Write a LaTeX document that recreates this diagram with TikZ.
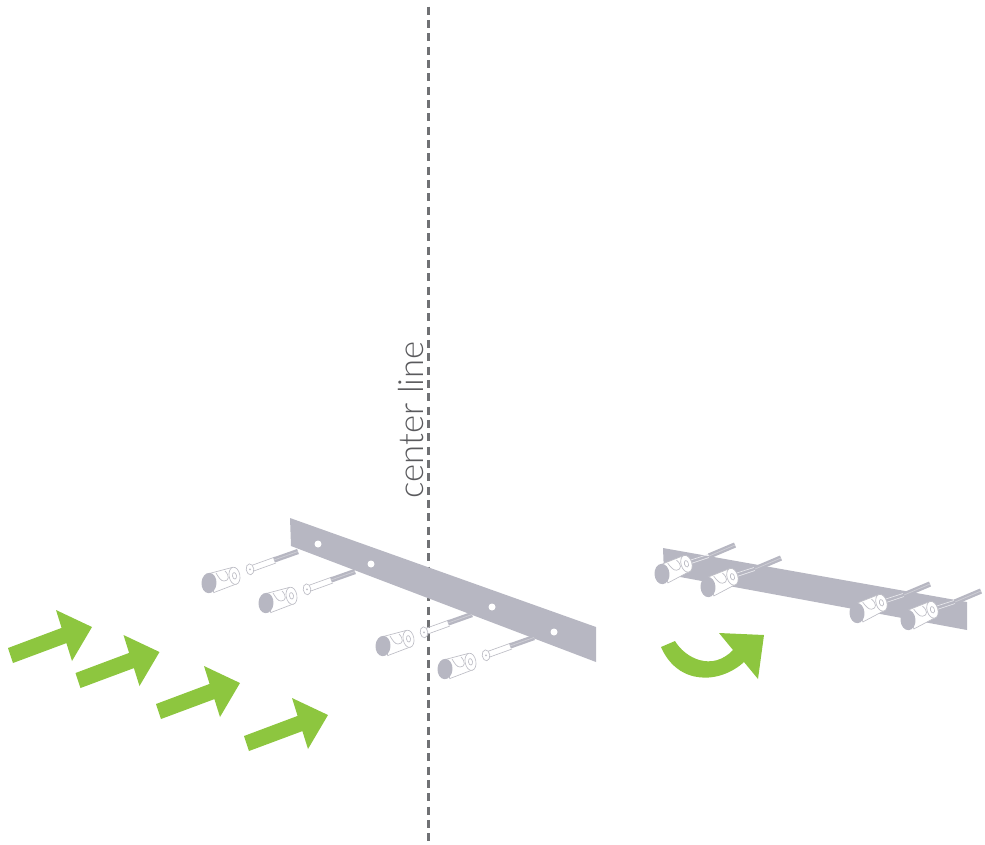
\documentclass[tikz,border=0pt]{standalone}
\usepackage{fontspec}
\setsansfont{Lato}[UprightFont=* Light]
\definecolor{platecolor}{RGB}{183,183,194}
\definecolor{greencolor}{RGB}{141,198,63}
\definecolor{dashcolor}{RGB}{112,113,116}
\definecolor{textcolor}{RGB}{90,90,93}
\definecolor{outlinecolor}{RGB}{190,190,198}
\tikzset{
  plate/.style={fill=platecolor, draw=none},
  hole/.style={fill=white, draw=none},
  bigarrow/.style={fill=greencolor, draw=none},
  outline/.style={draw=outlinecolor, line width=0.5pt, fill=white},
  thread/.style={draw=platecolor, line width=4pt},
  threadline/.style={draw=white!30!platecolor, line width=0.6pt},
  pics/plugbody/.style={code={
    \draw[outline] (1.3,-9.8) -- (23,-15.5) -- (28,0.7) -- (4.7,9.6) -- cycle;
    \draw[outline] (25.5,-7.2) ellipse[x radius=5.4, y radius=8.7, rotate=10];
    \draw[outline] (25.5,-7.2) ellipse[x radius=2, y radius=3.3, rotate=10];
    \draw[outline, fill=none] (7,-10) .. controls (10,-5) and (12,-2) .. (15,-2) .. controls (20,-2) and (21,-7) .. (16,-12);
    \fill[platecolor] (0,0) ellipse[x radius=7.5, y radius=10.2, rotate=-3];
  }}
}
\begin{document}
\begin{tikzpicture}[x=0.75pt, y=-0.75pt]
\useasboundingbox (0,0) rectangle (985,844);

% Center line and its label
\coordinate (lineTop) at (428.5,6.5);
\coordinate (lineEnd) at (428.5,844);
\draw[dashcolor, line width=2.4pt, dash pattern=on 6pt off 4pt] (lineTop) -- (lineEnd);
\node[rotate=90, anchor=base, text=textcolor, font=\sffamily\fontsize{26}{26}\selectfont, inner sep=0pt] (centerLabel) at (423,420) {center line};

% Left plate with its holes
\draw[plate] (290,518) -- (596,627) -- (596,662) -- (291,546) -- cycle;
\foreach \x/\y in {318/544, 371/564, 492/607, 554/632}
  \fill[hole] (\x,\y) circle (3.5);

% Loose plugs and screws
\foreach \x/\y in {209/584, 266/604, 383/647, 445/670} {
  \draw[outline] (\x+41,\y-18) -- (\x+66,\y-27);
  \draw[outline] (\x+42,\y-12) -- (\x+67,\y-21);
  \draw[thread] (\x+65,\y-24) -- (\x+89,\y-32.5);
  \draw[threadline] (\x+65,\y-24) -- (\x+89,\y-32.5);
  \draw[outline] (\x+41,\y-14.7) ellipse[x radius=3.8, y radius=5.5, rotate=8];
  \fill[outlinecolor] (\x+41,\y-14.7) circle (1);
  \pic at (\x,\y-1) {plugbody};
}

% Right plate, plugs fitted
\draw[plate] (663,548) -- (967,602) -- (967,630) -- (664,574) -- cycle;
\foreach \x/\y in {662/574, 708/587, 857/613, 908/620} {
  \draw[white!70!platecolor, line width=0.5pt] (\x+24,\y-12.5) -- (\x+46,\y-19.5);
  \draw[white!70!platecolor, line width=0.5pt] (\x+26,\y-9.5) -- (\x+47,\y-16.5);
  \draw[thread] (\x+47,\y-18) -- (\x+73,\y-29);
  \draw[threadline] (\x+47,\y-18) -- (\x+73,\y-29);
  \pic[rotate=7] at (\x,\y) {plugbody};
}

% Curved arrow
\fill[bigarrow] (661,647) -- (675,641) .. controls (685,658) and (712,672) .. (733,650)
  -- (719,633) -- (764,635) -- (758,679) -- (744,662) .. controls (720,684) and (678,686) .. cycle;

% Straight arrows
\foreach \x/\y in {10.5/655.5, 78/680.5, 158.5/711.5, 246.5/743.5}
  \fill[bigarrow, shift={(\x,\y)}] (-2.5,-7.5) -- (51.1,-27.6) -- (45.5,-45.5) -- (81.5,-28.5)
    -- (61.5,5.5) -- (55.9,-12.4) -- (2.5,7.5) -- cycle;
\end{tikzpicture}
\end{document}
